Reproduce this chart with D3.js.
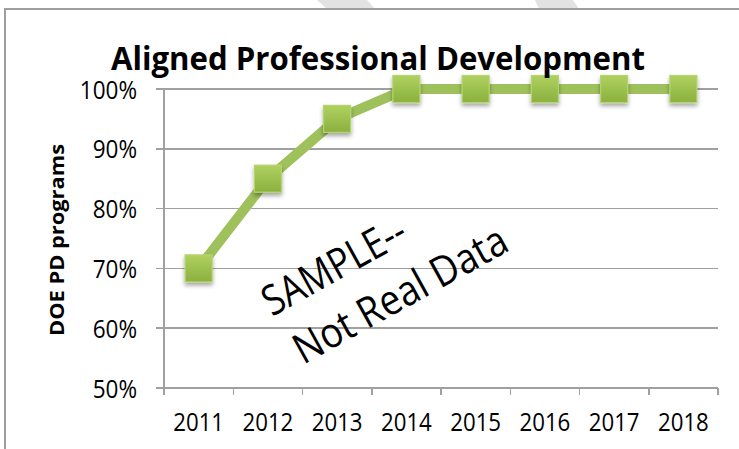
<!DOCTYPE html>
<meta charset="utf-8">
<style>
body { margin: 0; background: #fff; }
text { font-family: "Open Sans", sans-serif; fill: #000; }
.grid line { stroke: #a0a0a0; stroke-width: 1.5px; shape-rendering: crispEdges; }
.axis path, .axis line { stroke: #a0a0a0; stroke-width: 1.5px; fill: none; shape-rendering: crispEdges; }
.series { fill: none; stroke: #9ec15c; stroke-width: 10px; stroke-linejoin: round; }
</style>
<body>
<div id="chart"></div>
<script src="https://cdn.jsdelivr.net/npm/d3@7"></script>
<script>
var years = ["2011", "2012", "2013", "2014", "2015", "2016", "2017", "2018"];
var values = [0.70, 0.85, 0.95, 1.00, 1.00, 1.00, 1.00, 1.00];
var yTicks = [0.5, 0.6, 0.7, 0.8, 0.9, 1.0];

var W = 739, H = 449;
var plotLeft = 164, plotRight = 718, plotTop = 89, plotBottom = 388;

var svg = d3.select("#chart").append("svg")
    .attr("width", W).attr("height", H);

// faint page watermark stripes above the chart box
svg.append("path").attr("d", "M317,0 L367,0 L375,9 L327,9 Z").attr("fill", "#e2e2e2");
svg.append("path").attr("d", "M535,0 L573,0 L579,9 L539,9 Z").attr("fill", "#e2e2e2");

// chart box
svg.append("rect")
    .attr("x", 5).attr("y", 9).attr("width", W + 20).attr("height", H + 20)
    .attr("fill", "#fff").attr("stroke", "#9e9e9e").attr("stroke-width", 2);

var defs = svg.append("defs");
var grad = defs.append("linearGradient").attr("id", "mk")
    .attr("x1", 0).attr("y1", 0).attr("x2", 0).attr("y2", 1);
grad.append("stop").attr("offset", "0%").attr("stop-color", "#afd160");
grad.append("stop").attr("offset", "100%").attr("stop-color", "#8bb03e");
var f = defs.append("filter").attr("id", "shadow")
    .attr("x", "-50%").attr("y", "-50%").attr("width", "200%").attr("height", "200%");
f.append("feDropShadow").attr("dx", 0).attr("dy", 3).attr("stdDeviation", 2)
    .attr("flood-color", "#000").attr("flood-opacity", 0.35);

var x = d3.scaleBand().domain(years).range([plotLeft, plotRight]).padding(0);
var y = d3.scaleLinear().domain([0.5, 1]).range([plotBottom, plotTop]);

// squeeze Open Sans glyphs a bit so they sit closer to Calibri proportions
function condense(sel, ratio) {
  sel.each(function() {
    var w = this.getComputedTextLength();
    d3.select(this).attr("textLength", w * ratio).attr("lengthAdjust", "spacingAndGlyphs");
  });
}

// gridlines
svg.append("g").attr("class", "grid")
  .selectAll("line").data(yTicks).enter().append("line")
    .attr("x1", plotLeft - 8).attr("x2", plotRight)
    .attr("y1", function(d) { return y(d); })
    .attr("y2", function(d) { return y(d); });

// y axis
var yAxis = d3.axisLeft(y).tickValues(yTicks).tickFormat(d3.format(".0%"))
    .tickSize(0).tickPadding(27);
var gy = svg.append("g").attr("class", "axis").attr("transform", "translate(" + plotLeft + ",0)").call(yAxis);
gy.select(".domain").remove();
gy.append("line").attr("x1", 0).attr("x2", 0).attr("y1", plotTop).attr("y2", plotBottom);
gy.selectAll("text").attr("font-size", 25).attr("dy", "0.36em").attr("fill", "#000")
    .attr("font-family", "Open Sans, sans-serif");
condense(gy.selectAll("text"), 0.9);

// x axis
var xAxis = d3.axisBottom(x).tickSize(0).tickPadding(26);
var gx = svg.append("g").attr("class", "axis").attr("transform", "translate(0," + plotBottom + ")").call(xAxis);
gx.select(".domain").remove();
gx.append("line").attr("x1", plotLeft).attr("x2", plotRight).attr("y1", 0).attr("y2", 0);
var edges = years.map(function(d) { return x(d); }).concat([x.range()[1]]);
gx.selectAll(".edge").data(edges).enter().append("line").attr("class", "edge")
    .attr("x1", function(d) { return d; }).attr("x2", function(d) { return d; })
    .attr("y1", 0).attr("y2", 7);
gx.selectAll("text").attr("font-size", 25).attr("dy", "0.69em").attr("fill", "#000")
    .attr("font-family", "Open Sans, sans-serif");
condense(gx.selectAll("text"), 0.89);

// series line
var pts = years.map(function(d, i) { return [x(d) + x.bandwidth() / 2, y(values[i])]; });
svg.append("path").attr("class", "series").attr("d", d3.line()(pts));

// markers
var ms = 27;
svg.append("g").selectAll("rect").data(pts).enter().append("rect")
    .attr("x", function(d) { return d[0] - ms / 2; })
    .attr("y", function(d) { return d[1] - ms / 2; })
    .attr("width", ms).attr("height", ms)
    .attr("fill", "url(#mk)").attr("stroke", "#b4d46e").attr("stroke-width", 1.2)
    .attr("filter", "url(#shadow)");

// title
svg.append("text").attr("x", 378).attr("y", 70)
    .attr("text-anchor", "middle").attr("font-weight", "bold").attr("font-size", 32)
    .attr("textLength", 534).attr("lengthAdjust", "spacingAndGlyphs")
    .text("Aligned Professional Development");

// y label
svg.append("text").attr("transform", "translate(64,240) rotate(-90)")
    .attr("text-anchor", "middle").attr("font-weight", "bold").attr("font-size", 19.5)
    .attr("textLength", 192).attr("lengthAdjust", "spacingAndGlyphs")
    .text("DOE PD programs");

// sample stamp
var stamp = svg.append("g").attr("transform", "translate(272,317) rotate(-29)");
stamp.append("text").attr("x", 0).attr("y", 0).attr("font-size", 42)
    .attr("textLength", 158).attr("lengthAdjust", "spacingAndGlyphs").text("SAMPLE--");
stamp.append("text").attr("x", 4).attr("y", 57).attr("font-size", 42)
    .attr("textLength", 238).attr("lengthAdjust", "spacingAndGlyphs").text("Not Real Data");
</script>
</body>
